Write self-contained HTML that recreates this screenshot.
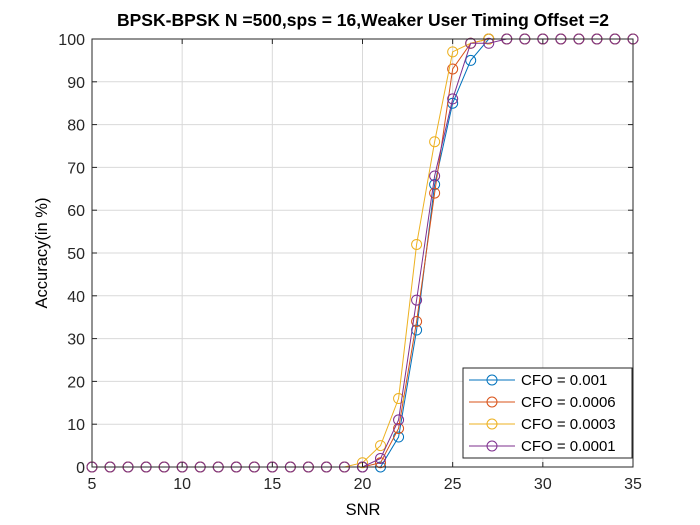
<!DOCTYPE html>
<html><head><meta charset="utf-8"><style>body{margin:0;background:#fff}svg{display:block;font-family:"Liberation Sans",sans-serif}</style></head>
<body>
<svg id="chart" width="700" height="525">
<rect width="700" height="525" fill="#fff"/>
<g id="grid"></g><g id="series"></g><g id="axes"></g>
<text x="363" y="26" text-anchor="middle" font-size="17.5" font-weight="bold">BPSK-BPSK N =500,sps = 16,Weaker User Timing Offset =2</text>
<text x="363" y="515" text-anchor="middle" font-size="16.5">SNR</text>
<text transform="translate(47,253) rotate(-90)" text-anchor="middle" font-size="16.5">Accuracy(in %)</text>
<g id="legend"></g>
</svg>
<script>
const snr=[5,6,7,8,9,10,11,12,13,14,15,16,17,18,19,20,21,22,23,24,25,26,27,28,29,30,31,32,33,34,35];
const zeros15=[0,0,0,0,0,0,0,0,0,0,0,0,0,0,0];
const cfo001=zeros15.concat([0,0,7,32,66,85,95,100,100,100,100,100,100,100,100,100]);
const cfo0006=zeros15.concat([0,1,9,34,64,93,99,100,100,100,100,100,100,100,100,100]);
const cfo0003=zeros15.concat([1,5,16,52,76,97,99,100,100,100,100,100,100,100,100,100]);
const cfo0001=zeros15.concat([0,2,11,39,68,86,99,99,100,100,100,100,100,100,100,100]);
const seriesNames=["CFO = 0.001","CFO = 0.0006","CFO = 0.0003","CFO = 0.0001"];
const xTicks=[5,10,15,20,25,30,35];
const yTicks=[0,10,20,30,40,50,60,70,80,90,100];
const colors=["#0072BD","#D95319","#EDB120","#7E2F8E"];
const L=92,R=633,T=39,B=467;
const xs=v=>L+(v-5)/30*(R-L);
const ys=v=>B-v/100*(B-T);
const NS="http://www.w3.org/2000/svg";
function mk(tag,attrs,parent){const e=document.createElementNS(NS,tag);for(const k in attrs)e.setAttribute(k,attrs[k]);parent.appendChild(e);return e;}
const grid=document.getElementById('grid'),axes=document.getElementById('axes'),ser=document.getElementById('series'),leg=document.getElementById('legend');
mk('rect',{x:L,y:T,width:R-L,height:B-T,fill:'#fff'},grid);
xTicks.forEach(t=>{
 const g=mk('line',{x1:xs(t),x2:xs(t),y1:T,y2:B,stroke:'#d9d9d9','stroke-width':1},grid);
 
 mk('line',{x1:xs(t),x2:xs(t),y1:B,y2:B-5,stroke:'#262626'},axes);
 mk('line',{x1:xs(t),x2:xs(t),y1:T,y2:T+5,stroke:'#262626'},axes);
 const tx=mk('text',{x:xs(t),y:B+22,'text-anchor':'middle','font-size':16,fill:'#262626'},axes);
 tx.textContent=t;
 
});
yTicks.forEach(t=>{
 const g=mk('line',{x1:L,x2:R,y1:ys(t),y2:ys(t),stroke:'#d9d9d9','stroke-width':1},grid);
 
 mk('line',{x1:L,x2:L+5,y1:ys(t),y2:ys(t),stroke:'#262626'},axes);
 mk('line',{x1:R,x2:R-5,y1:ys(t),y2:ys(t),stroke:'#262626'},axes);
 const tx=mk('text',{x:L-7,y:ys(t)+6,'text-anchor':'end','font-size':16,fill:'#262626'},axes);
 tx.textContent=t;
 
});
const fr=mk('rect',{x:L,y:T,width:R-L,height:B-T,fill:'none',stroke:'#262626'},axes);

[cfo001,cfo0006,cfo0003,cfo0001].forEach((d,i)=>{
 const g=mk('g',{},ser);
 
 mk('polyline',{points:d.map((v,j)=>xs(snr[j])+','+ys(v)).join(' '),fill:'none',stroke:colors[i],'stroke-width':1},g);
 d.forEach((v,j)=>{
  const c=mk('circle',{cx:xs(snr[j]),cy:ys(v),r:5,fill:'none',stroke:colors[i],'stroke-width':1},g);
  
 });
});
const lb=mk('rect',{x:463,y:368,width:169,height:90,fill:'#fff',stroke:'#262626'},leg);

seriesNames.forEach((n,i)=>{
 const y=380+i*22;
 const g=mk('g',{},leg);
 
 mk('line',{x1:469,x2:515,y1:y,y2:y,stroke:colors[i]},g);
 mk('circle',{cx:492,cy:y,r:5,fill:'none',stroke:colors[i]},g);
 const t=mk('text',{x:521,y:y+5,'font-size':15,fill:'#000'},g);t.textContent=n;
});
</script>
</body></html>
